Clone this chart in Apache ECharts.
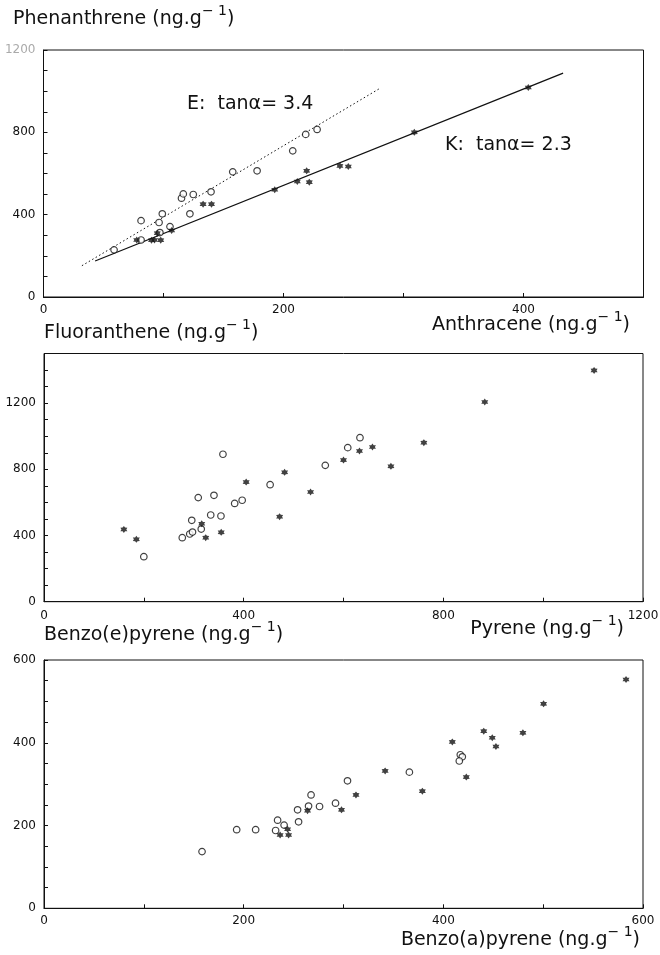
<!DOCTYPE html>
<html><head><meta charset="utf-8">
<script src="https://cdn.jsdelivr.net/npm/echarts@6/dist/echarts.min.js"></script>
<style>html,body{margin:0;padding:0;background:#fff}#c{width:660px;height:955px}</style>
</head><body><div id="c"></div>
<script>
// ---- Panel 1: Anthracene (x) vs Phenanthrene (y), ng/g ----
const phenE = [[58.8,229],[81.3,371],[81.3,277],[96.3,362],[99,404],[97,313],[105.4,342],[122,404],[115,480],[116.5,501],[124.8,498],[139.6,511],[157.7,608],[178,613],[207.7,710],[218.5,790],[228,814]];
const phenK = [[77.7,277],[90,276],[92.5,277],[97.7,276],[94.8,310],[106.8,323],[133,451],[140,451],[192.7,521],[211.5,561],[219.3,613],[221.5,558],[247,637],[254,634],[309,800],[404,1018]];
const lineE = [[32,152],[281,1016]];
const lineK = [[43,175],[433,1088]];
const topXLabels = [0,200,400];
const topYLabels = [0,400,800,1200];

// ---- Panel 2: Pyrene (x) vs Fluoranthene (y) ----
const pyrE = [[200,272],[277,387],[292,409],[297.5,421],[296,492],[315,439],[309,629],[334,524],[340.5,643],[354.5,518],[358.5,891],[382,594],[397,613],[453,707],[563.5,824],[608.5,931],[633,991]];
const pyrK = [[160,437],[185,377],[316,471],[324,387],[355,419],[405,723],[482,782],[472,514],[534,663],[600,856],[632,911],[658,935],[695,818],[761,961],[883,1207],[1102,1398]];
const midXLabels = [0,400,800,1200];
const midYLabels = [0,400,800,1200];

// ---- Panel 3: Benzo(a)pyrene (x) vs Benzo(e)pyrene (y) ----
const bapE = [[158.3,137],[193,190],[212,190],[232,188],[234,213],[240.5,201],[254,238],[255,209],[265,247],[267.5,274],[276,246],[292,254],[304,308],[366,329],[417,371],[419,366],[416,356]];
const bapK = [[236.5,177],[244,191],[245,177],[264,236],[298,238],[312.5,274],[341.7,332],[379,283],[409,402],[423,317],[440.5,428],[449,412],[452.7,391],[479.7,424],[500.4,494],[583,553]];
const botXLabels = [0,200,400,600];
const botYLabels = [0,200,400,600];

const INK = '#111';
const FONT = 'DejaVu Sans';

function starPath(n, rIn) {
  let d = '';
  for (let i = 0; i < 2 * n; i++) {
    const a = i * Math.PI / n - Math.PI / 2;
    const r = (i % 2) ? rIn : 1;
    d += (i ? 'L' : 'M') + (r * Math.cos(a)).toFixed(3) + ',' + (r * Math.sin(a)).toFixed(3);
  }
  return 'path://' + d + 'Z';
}
const STAR = starPath(6, 0.6);

function xAx(gi, min, max, interval, labels, margin) {
  return {
    type: 'value', gridIndex: gi, min: min, max: max, interval: interval,
    axisLine: {show: true, onZero: false, lineStyle: {color: INK, width: 1}},
    axisTick: {show: true, inside: true, length: 4, lineStyle: {color: INK, width: 1}},
    splitLine: {show: false},
    axisLabel: {margin: margin, fontSize: 12, fontFamily: FONT, color: INK,
      formatter: v => labels.includes(v) ? String(v) : ''}
  };
}
function yAx(gi, min, max, interval, labels, colorFn) {
  return {
    type: 'value', gridIndex: gi, min: min, max: max, interval: interval,
    axisLine: {show: true, onZero: false, lineStyle: {color: INK, width: 1}},
    axisTick: {show: true, inside: true, length: 4, lineStyle: {color: INK, width: 1}},
    splitLine: {show: false},
    axisLabel: {margin: 8, fontSize: 12, fontFamily: FONT, color: colorFn || INK,
      formatter: v => labels.includes(v) ? String(v) : ''}
  };
}
function circles(data, gi) {
  return {type: 'scatter', xAxisIndex: gi, yAxisIndex: gi, data: data, symbol: 'circle', symbolSize: 6.5,
    itemStyle: {color: '#fff', borderColor: INK, borderWidth: 1.2}, z: 3};
}
function stars(data, gi) {
  return {type: 'scatter', xAxisIndex: gi, yAxisIndex: gi, data: data, symbol: STAR, symbolSize: 7,
    itemStyle: {color: INK, borderWidth: 0}, z: 4};
}
const rich = {
  m: {fontSize: 19, fontFamily: FONT, color: INK, lineHeight: 26},
  s: {fontSize: 14, fontFamily: FONT, color: INK, lineHeight: 14, padding: [0, 0, 16, 0]}
};
function axTitle(name, pos) {
  return Object.assign({
    text: '{m|' + name + ' (ng.g}{s|\u2212 1}{m|)}', padding: 0,
    textStyle: {rich: rich, fontWeight: 'normal'}
  }, pos);
}
function eqTitle(txt, left, top) {
  return {text: txt, left: left, top: top, padding: 0,
    textStyle: {fontSize: 19, fontFamily: FONT, color: INK, fontWeight: 'normal'}};
}

const gridBase = {show: true, borderColor: INK, borderWidth: 1, backgroundColor: 'transparent', outerBoundsMode: 'none', containLabel: false};

const option = {
  animation: false,
  backgroundColor: '#fff',
  grid: [
    Object.assign({left: 43.5, top: 50, width: 600, height: 247}, gridBase),
    Object.assign({left: 44, top: 353.5, width: 599, height: 248.2}, gridBase),
    Object.assign({left: 44, top: 660, width: 599, height: 248.3}, gridBase)
  ],
  xAxis: [
    xAx(0, 0, 500, 100, topXLabels, 7),
    xAx(1, 0, 1200, 200, midXLabels, 8),
    xAx(2, 0, 600, 100, botXLabels, 7)
  ],
  yAxis: [
    yAx(0, 0, 1200, 100, topYLabels, v => (+v === 1200 ? '#aaa' : INK)),
    yAx(1, 0, 1500, 100, midYLabels),
    yAx(2, 0, 600, 50, botYLabels)
  ],
  title: [
    axTitle('Phenanthrene', {left: 13, top: 6}),
    axTitle('Anthracene', {right: 30, top: 312}),
    axTitle('Fluoranthene', {left: 44, top: 320}),
    axTitle('Pyrene', {right: 36, top: 616}),
    axTitle('Benzo(e)pyrene', {left: 44, top: 622}),
    axTitle('Benzo(a)pyrene', {right: 20, top: 927}),
    eqTitle('E:  tan\u03b1= 3.4', 187, 95),
    eqTitle('K:  tan\u03b1= 2.3', 445, 136)
  ],
  series: [
    {type: 'line', xAxisIndex: 0, yAxisIndex: 0, data: lineE, symbol: 'none', silent: true,
      lineStyle: {color: INK, width: 1, type: [1.5, 2.5]}, z: 2},
    {type: 'line', xAxisIndex: 0, yAxisIndex: 0, data: lineK, symbol: 'none', silent: true,
      lineStyle: {color: INK, width: 1.3}, z: 2},
    circles(phenE, 0), stars(phenK, 0),
    circles(pyrE, 1), stars(pyrK, 1),
    circles(bapE, 2), stars(bapK, 2)
  ]
};
const chart = echarts.init(document.getElementById('c'), null, {renderer: 'canvas'});
chart.setOption(option);
</script>
</body></html>
